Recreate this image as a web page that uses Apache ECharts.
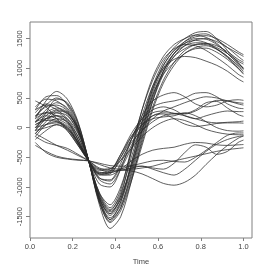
<!DOCTYPE html>
<html><head><meta charset="utf-8">
<script src="https://cdn.jsdelivr.net/npm/echarts@6/dist/echarts.min.js"></script>
<style>html,body{margin:0;padding:0;background:#fff}#c{width:266px;height:271px}</style>
</head><body><div id="c"></div>
<script>
const times = [0.025,0.075,0.125,0.175,0.225,0.275,0.325,0.375,0.425,0.475,0.525,0.575,0.625,0.675,0.725,0.775,0.825,0.875,0.925,0.975,1.0];
const xTicks = [0,0.2,0.4,0.6,0.8,1.0];
const yTicks = [-1500,-1000,-500,0,500,1000,1500];
// large-amplitude curves
const curveA1 = [150,450,610,480,100,-560,-1250,-1550,-1250,-600,100,700,1100,1350,1500,1600,1620,1500,1300,1100,1000];
const curveA2 = [300,520,540,380,20,-560,-1200,-1450,-1150,-400,300,850,1200,1400,1500,1560,1520,1420,1250,1080,1000];
const curveA3 = [-50,250,480,420,80,-560,-1300,-1700,-1500,-900,-200,450,950,1250,1450,1560,1580,1480,1350,1200,1130];
const curveA4 = [100,300,420,330,0,-560,-1150,-1400,-1100,-500,100,650,1050,1300,1420,1470,1430,1330,1200,1050,980];
const curveA5 = [200,350,380,280,-50,-560,-1180,-1480,-1250,-700,-50,550,950,1200,1330,1400,1400,1320,1180,1000,900];
const curveA6 = [0,200,300,250,-30,-560,-1100,-1350,-1050,-350,300,800,1150,1330,1400,1380,1300,1180,1050,900,850];
const curveA7 = [-100,100,250,200,-80,-560,-1220,-1520,-1300,-800,-150,450,900,1200,1380,1480,1500,1450,1350,1250,1200];
const curveA8 = [50,150,200,150,-100,-560,-1150,-1420,-1200,-650,0,600,1000,1250,1380,1430,1420,1350,1250,1120,1070];
const curveA9 = [250,400,350,220,-60,-560,-1200,-1550,-1350,-850,-250,350,800,1100,1300,1400,1420,1380,1280,1150,1100];
const curveA10 = [-150,50,150,100,-150,-560,-1100,-1300,-1000,-400,200,700,1000,1150,1200,1180,1120,1050,950,820,770];
const curveA11 = [350,480,450,300,0,-560,-1250,-1600,-1400,-900,-300,300,750,1050,1250,1350,1380,1320,1200,1030,950];
const curveA12 = [80,250,330,260,-20,-560,-1180,-1450,-1200,-600,50,650,1050,1300,1450,1530,1550,1500,1400,1280,1230];
const curveA13 = [-50,150,280,240,-20,-560,-1120,-1380,-1150,-650,-50,550,900,1100,1250,1330,1340,1270,1150,1000,920];
const curveA14 = [180,380,500,400,60,-560,-1260,-1580,-1350,-750,-100,500,950,1250,1420,1500,1490,1400,1250,1080,1000];
// medium curves
const curveB1 = [300,380,300,150,-150,-560,-950,-1000,-700,-200,200,450,550,590,520,400,350,380,450,470,460];
const curveB2 = [0,150,200,100,-200,-560,-850,-880,-600,-200,150,350,420,450,500,580,590,520,400,330,320];
const curveB3 = [-100,50,100,0,-250,-560,-800,-780,-500,-150,100,250,280,240,230,280,380,460,450,400,380];
const curveB4 = [100,200,150,50,-250,-560,-780,-750,-450,-100,150,300,350,300,200,150,200,250,280,270,270];
const curveB5 = [200,250,200,80,-220,-560,-850,-900,-650,-300,0,200,250,240,240,300,420,440,330,220,190];
const curveB6 = [-200,-50,50,-20,-270,-560,-780,-760,-550,-250,-50,100,200,230,200,150,100,80,90,100,110];
const curveB7 = [50,120,100,-20,-280,-560,-720,-700,-500,-200,50,200,230,150,60,20,40,70,80,80,75];
const curveB8 = [450,350,150,-50,-300,-560,-760,-730,-450,-150,50,150,180,200,250,200,100,0,-50,-60,-55];
const curveB9 = [-50,0,50,-50,-300,-560,-700,-690,-550,-350,-150,0,100,150,120,50,-30,-80,-110,-120,-120];
const curveB10 = [150,250,250,120,-200,-560,-880,-950,-700,-350,-50,150,280,350,420,480,520,500,450,420,410];
// low curves
const curveC1 = [-250,-420,-500,-530,-550,-560,-620,-680,-700,-700,-680,-650,-600,-560,-520,-480,-440,-400,-370,-350,-340];
const curveC2 = [-100,-200,-300,-380,-470,-560,-680,-720,-720,-730,-780,-860,-940,-970,-920,-800,-620,-450,-300,-180,-140];
const curveC3 = [0,50,80,0,-250,-560,-750,-760,-700,-650,-650,-700,-760,-800,-700,-550,-400,-280,-200,-150,-140];
const curveC4 = [-300,-400,-480,-520,-540,-560,-600,-640,-650,-640,-600,-560,-550,-570,-580,-500,-380,-250,-130,-90,-90];
const curveC5 = [-150,-250,-300,-350,-450,-560,-700,-750,-720,-680,-650,-680,-700,-600,-420,-290,-330,-450,-400,-250,-210];
const curveC6 = [100,150,120,20,-250,-560,-780,-800,-700,-560,-450,-380,-350,-330,-280,-250,-260,-290,-300,-290,-285];

const curves = [curveA1,curveA2,curveA3,curveA4,curveA5,curveA6,curveA7,curveA8,curveA9,curveA10,curveA11,curveA12,curveA13,curveA14,
  curveB1,curveB2,curveB3,curveB4,curveB5,curveB6,curveB7,curveB8,curveB9,curveB10,
  curveC1,curveC2,curveC3,curveC4,curveC5,curveC6];

const chart = echarts.init(document.getElementById('c'), null, {renderer:'canvas'});
const axisCol = '#808080', txtCol = '#444';
chart.setOption({
  animation:false,
  grid:{left:30, top:22, width:222, height:220, show:true, borderColor:axisCol, borderWidth:1, backgroundColor:'transparent'},
  xAxis:{type:'value', min:0, max:1.04,
    name:'Time', nameLocation:'middle', nameGap:20, nameTextStyle:{fontSize:7.5, color:txtCol, fontFamily:'Liberation Sans'},
    axisLine:{show:false, onZero:false}, splitLine:{show:false},
    axisTick:{show:true, customValues:xTicks, length:3, lineStyle:{color:axisCol}},
    axisLabel:{customValues:xTicks, formatter:v=>v.toFixed(1), fontSize:7.5, color:txtCol, margin:5, fontFamily:'Liberation Sans'}},
  yAxis:{type:'value', min:-1860, max:1780,
    axisLine:{show:false, onZero:false}, splitLine:{show:false},
    axisTick:{show:true, customValues:yTicks, length:4, lineStyle:{color:axisCol}},
    axisLabel:{customValues:yTicks, formatter:v=>String(v), rotate:90, fontSize:7.5, color:txtCol, margin:6, fontFamily:'Liberation Sans'}},
  series: curves.map(c=>({type:'line', data:times.map((t,i)=>[t,c[i]]), showSymbol:false, symbol:'none', smooth:0.3, silent:true,
    lineStyle:{color:'#2a2a2a', width:0.75}}))
});
</script></body></html>
